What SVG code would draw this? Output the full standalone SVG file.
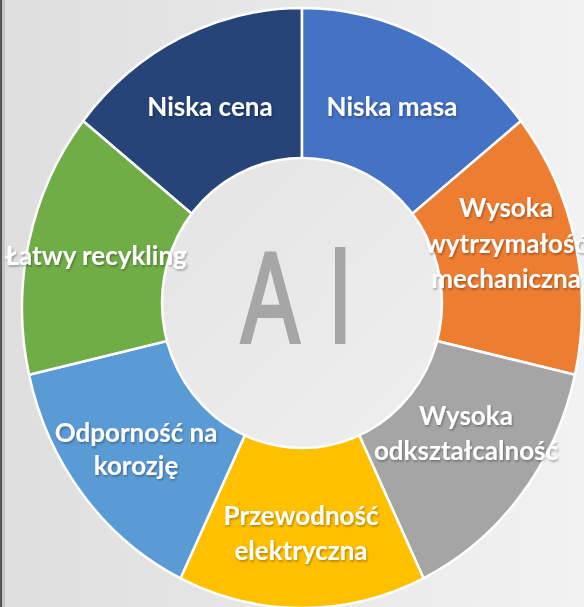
<svg xmlns="http://www.w3.org/2000/svg" width="584" height="607" viewBox="0 0 584 607">
  <defs>
    <linearGradient id="bg" x1="0" y1="0" x2="1" y2="0">
      <stop offset="0" stop-color="#dedede"/>
      <stop offset="1" stop-color="#f2f2f2"/>
    </linearGradient>
    <linearGradient id="hub" x1="0" y1="0" x2="1" y2="1">
      <stop offset="0" stop-color="#e4e4e4"/>
      <stop offset="1" stop-color="#efefef"/>
    </linearGradient>
    <filter id="sh" x="-10%" y="-20%" width="120%" height="140%">
      <feDropShadow dx="1" dy="1.5" stdDeviation="1" flood-color="#000" flood-opacity="0.35"/>
    </filter>
  </defs>
  <style>
    .seg { stroke: #ffffff; stroke-width: 2.5; stroke-linejoin: round; }
    .lbl { font-family: Lato, "Open Sans", "DejaVu Sans", sans-serif; font-weight: 700; font-size: 26px; fill: #ffffff; text-anchor: middle; filter: url(#sh); }
  </style>
  <rect x="0" y="0" width="584" height="607" fill="url(#bg)"/>
  <rect x="0" y="0" width="2" height="607" fill="#555555"/>
  <rect x="2" y="0" width="3" height="607" fill="#c4c4c4"/>

  <g id="niska-cena">
    <path class="seg" fill="#264478" d="M302 308 L83.09 120.95 A280 300 0 0 1 302 8 Z"/>
  </g>
  <g id="niska-masa">
    <path class="seg" fill="#4472c4" d="M302 308 L302 8 A280 300 0 0 1 520.91 120.95 Z"/>
  </g>
  <g id="wysoka-wytrzymalosc">
    <path class="seg" fill="#ed7d31" d="M302 308 L520.91 120.95 A280 300 0 0 1 574.98 374.76 Z"/>
  </g>
  <g id="wysoka-odksztalcalnosc">
    <path class="seg" fill="#a5a5a5" d="M302 308 L574.98 374.76 A280 300 0 0 1 423.49 578.29 Z"/>
  </g>
  <g id="przewodnosc">
    <path class="seg" fill="#ffc000" d="M302 308 L423.49 578.29 A280 300 0 0 1 180.51 578.29 Z"/>
  </g>
  <g id="odpornosc">
    <path class="seg" fill="#5b9bd5" d="M302 308 L180.51 578.29 A280 300 0 0 1 29.02 374.76 Z"/>
  </g>
  <g id="recykling">
    <path class="seg" fill="#70ad47" d="M302 308 L29.02 374.76 A280 300 0 0 1 83.09 120.95 Z"/>
  </g>

  <g id="al">
    <ellipse cx="302" cy="303" rx="140" ry="145" fill="url(#hub)" stroke="#ffffff" stroke-width="2.5"/>
    <text transform="translate(240 342) scale(0.68 1)" font-family="'Liberation Sans', Arial, sans-serif" font-size="128" fill="#a6a6a6" stroke="#a6a6a6" stroke-width="4"><tspan x="2">A</tspan><tspan x="133">l</tspan></text>
  </g>

  <g id="labels">
    <text class="lbl" x="210" y="116">Niska cena</text>
    <text class="lbl" x="392" y="116">Niska masa</text>
    <text class="lbl" x="506" y="217">Wysoka</text>
    <text class="lbl" x="506" y="253">wytrzymałość</text>
    <text class="lbl" x="506" y="288">mechaniczna</text>
    <text class="lbl" x="96" y="265">Łatwy recykling</text>
    <text class="lbl" x="136" y="442">Odporność na</text>
    <text class="lbl" x="136" y="475">korozję</text>
    <text class="lbl" x="466" y="425">Wysoka</text>
    <text class="lbl" x="466" y="460">odkształcalność</text>
    <text class="lbl" x="301" y="525">Przewodność</text>
    <text class="lbl" x="301" y="560">elektryczna</text>
  </g>
</svg>
